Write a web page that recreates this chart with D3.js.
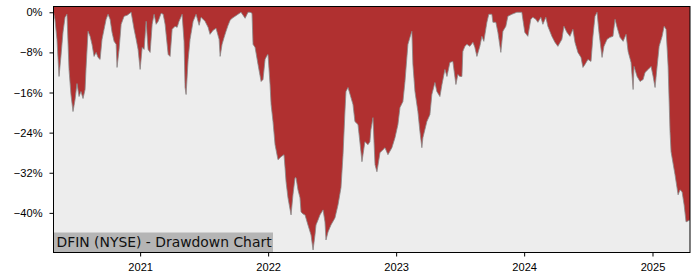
<!DOCTYPE html>
<html>
<head>
<meta charset="utf-8">
<script src="https://cdn.jsdelivr.net/npm/d3@7"></script>
<style>
  body { margin: 0; background: #ffffff; }
  svg { display: block; font-family: "DejaVu Sans", sans-serif; }
</style>
</head>
<body>
<div id="chart"></div>
<script>
// Data: time as decimal years, drawdown in percent

const chartTitle = "DFIN (NYSE) - Drawdown Chart";

const years = [
  2020.325, 2020.336, 2020.352, 2020.368, 2020.383, 2020.399, 2020.415, 2020.430, 2020.446, 2020.461,
  2020.477, 2020.493, 2020.508, 2020.524, 2020.539, 2020.555, 2020.571, 2020.578, 2020.594, 2020.610,
  2020.625, 2020.641, 2020.657, 2020.672, 2020.688, 2020.703, 2020.719, 2020.735, 2020.750, 2020.766,
  2020.781, 2020.797, 2020.813, 2020.820, 2020.836, 2020.852, 2020.875, 2020.899, 2020.930, 2020.953,
  2020.969, 2020.984, 2021.000, 2021.016, 2021.031, 2021.047, 2021.062, 2021.078, 2021.094, 2021.109,
  2021.125, 2021.141, 2021.164, 2021.180, 2021.195, 2021.219, 2021.234, 2021.250, 2021.273, 2021.289,
  2021.304, 2021.328, 2021.343, 2021.351, 2021.359, 2021.375, 2021.390, 2021.414, 2021.437, 2021.461,
  2021.476, 2021.492, 2021.507, 2021.531, 2021.546, 2021.570, 2021.593, 2021.617, 2021.625, 2021.640,
  2021.656, 2021.671, 2021.687, 2021.703, 2021.718, 2021.742, 2021.765, 2021.788, 2021.804, 2021.820,
  2021.843, 2021.859, 2021.874, 2021.882, 2021.898, 2021.921, 2021.945, 2021.960, 2021.976, 2021.991,
  2021.999, 2022.015, 2022.023, 2022.038, 2022.054, 2022.077, 2022.101, 2022.124, 2022.132, 2022.140,
  2022.155, 2022.179, 2022.194, 2022.210, 2022.218, 2022.233, 2022.249, 2022.257, 2022.272, 2022.288,
  2022.311, 2022.335, 2022.351, 2022.366, 2022.374, 2022.390, 2022.405, 2022.429, 2022.444, 2022.452,
  2022.468, 2022.491, 2022.522, 2022.546, 2022.569, 2022.585, 2022.600, 2022.608, 2022.624, 2022.647,
  2022.663, 2022.678, 2022.702, 2022.725, 2022.733, 2022.756, 2022.780, 2022.795, 2022.803, 2022.819,
  2022.835, 2022.850, 2022.874, 2022.897, 2022.913, 2022.936, 2022.967, 2022.991, 2023.014, 2023.030,
  2023.053, 2023.069, 2023.092, 2023.108, 2023.123, 2023.131, 2023.147, 2023.170, 2023.186, 2023.201,
  2023.209, 2023.240, 2023.264, 2023.279, 2023.303, 2023.318, 2023.342, 2023.358, 2023.381, 2023.397,
  2023.420, 2023.443, 2023.467, 2023.482, 2023.498, 2023.514, 2023.521, 2023.537, 2023.553, 2023.576,
  2023.600, 2023.615, 2023.631, 2023.654, 2023.670, 2023.685, 2023.709, 2023.724, 2023.748, 2023.756,
  2023.779, 2023.795, 2023.818, 2023.834, 2023.857, 2023.873, 2023.904, 2023.943, 2023.982, 2024.005,
  2024.029, 2024.052, 2024.068, 2024.091, 2024.107, 2024.130, 2024.146, 2024.169, 2024.185, 2024.216,
  2024.240, 2024.263, 2024.294, 2024.310, 2024.333, 2024.357, 2024.380, 2024.396, 2024.419, 2024.443,
  2024.458, 2024.474, 2024.497, 2024.521, 2024.536, 2024.552, 2024.568, 2024.583, 2024.607, 2024.622,
  2024.646, 2024.669, 2024.692, 2024.708, 2024.724, 2024.747, 2024.771, 2024.794, 2024.810, 2024.833,
  2024.849, 2024.856, 2024.880, 2024.903, 2024.927, 2024.942, 2024.966, 2024.989, 2025.005, 2025.020,
  2025.036, 2025.052, 2025.075, 2025.091, 2025.106, 2025.122, 2025.137, 2025.145, 2025.176, 2025.200,
  2025.215, 2025.231, 2025.247, 2025.262, 2025.293
];

const drawdown = [
  0.0, -1.4, -5.4, -12.8, -8.8, -4.0, -1.0, -0.4, -11.4, -16.4,
  -19.8, -17.4, -14.2, -16.8, -15.8, -17.2, -15.4, -11.4, -3.8, -4.8,
  -6.4, -8.8, -8.0, -9.0, -9.4, -5.4, -3.4, -1.4, -0.4, -1.4,
  -4.0, -5.8, -6.4, -11.0, -7.4, -2.4, -0.8, -0.6, 0.0, -3.4,
  -5.4, -7.4, -11.4, -7.0, -7.4, -1.8, -7.4, -8.0, -2.4, -0.4,
  -2.4, -1.8, -0.2, -0.4, -2.4, -8.4, -8.8, -3.4, -2.8, -3.0,
  -1.8, -0.4, -5.8, -15.0, -16.4, -9.4, -5.4, -1.8, -0.4, -2.6,
  -1.0, -1.4, -1.8, -3.0, -4.4, -3.6, -3.2, -5.4, -8.8, -6.4,
  -5.0, -3.8, -2.6, -1.6, -1.2, -0.8, -0.4, 0.0, -0.6, -1.2,
  0.0, 0.0, -0.2, -6.4, -7.0, -10.4, -13.8, -13.4, -9.4, -8.6,
  -8.4, -14.4, -18.4, -21.8, -26.4, -29.4, -28.8, -28.4, -31.0, -33.8,
  -37.0, -40.4, -36.4, -33.0, -33.0, -35.4, -37.0, -39.8, -40.2, -40.4,
  -42.4, -44.4, -47.4, -44.4, -42.4, -41.4, -40.4, -39.4, -41.8, -45.4,
  -43.8, -42.4, -41.0, -38.4, -35.0, -28.4, -19.8, -15.8, -15.0, -17.0,
  -18.4, -21.8, -22.4, -27.8, -29.8, -25.8, -26.4, -25.8, -23.4, -21.0,
  -30.4, -31.8, -28.0, -27.4, -27.0, -28.4, -27.0, -25.0, -22.4, -19.0,
  -17.8, -13.8, -6.4, -5.0, -3.8, -10.4, -15.8, -19.8, -23.8, -27.0,
  -25.0, -21.8, -20.4, -16.4, -14.0, -15.8, -16.8, -14.4, -11.4, -12.8,
  -10.0, -9.8, -14.4, -12.4, -12.8, -12.8, -7.8, -6.8, -6.4, -6.8,
  -6.0, -7.0, -8.8, -6.8, -4.8, -5.8, -2.0, -0.4, -0.4, -2.0,
  -2.0, -4.0, -8.0, -3.8, -2.8, -0.8, -0.4, 0.0, 0.0, -4.0,
  -4.8, -1.4, -1.0, -1.4, -2.0, -1.0, -2.4, -1.0, -2.8, -4.8,
  -6.0, -6.8, -5.4, -2.8, -4.0, -4.8, -3.4, -6.0, -8.0, -9.0,
  -11.0, -10.4, -9.4, -9.8, -4.8, -0.8, 0.0, -4.0, -9.0, -6.8,
  -5.4, -5.0, -4.8, -1.4, -3.0, -5.0, -5.8, -4.4, -7.8, -10.0,
  -15.4, -10.8, -12.8, -13.8, -13.4, -12.0, -11.4, -10.8, -12.8, -15.0,
  -10.8, -6.8, -4.8, -2.8, -3.4, -10.8, -23.8, -27.8, -32.4, -36.4,
  -35.4, -35.8, -38.4, -41.8, -41.4
];

const yTicks = [0, -8, -16, -24, -32, -40];
const xTickYears = [2021, 2022, 2023, 2024, 2025];

function yearToDate(t) {
  const y = Math.floor(t);
  const start = new Date(y, 0, 1);
  const end = new Date(y + 1, 0, 1);
  return new Date(+start + (t - y) * (end - start));
}

function createDrawdownChart(containerId) {
  const width = 700;
  const height = 280;
  const margin = { top: 6.5, right: 10, bottom: 27.5, left: 53.5 };

  const data = years.map((t, i) => ({ date: yearToDate(t), value: drawdown[i] }));

  const svg = d3
    .select(containerId)
    .append("svg")
    .attr("width", width)
    .attr("height", height);

  const xScale = d3
    .scaleTime()
    .domain(d3.extent(data, (d) => d.date))
    .range([margin.left, width - margin.right]);

  const yScale = d3
    .scaleLinear()
    .domain([-47.9, 1.15])
    .range([height - margin.bottom, margin.top]);

  // Plot background

  svg
    .append("rect")
    .attr("x", margin.left)
    .attr("y", margin.top)
    .attr("width", width - margin.right - margin.left)
    .attr("height", height - margin.bottom - margin.top)
    .style("fill", "#ededed");

  svg
    .append("clipPath")
    .attr("id", "plot-clip")
    .append("rect")
    .attr("x", margin.left)
    .attr("y", margin.top)
    .attr("width", width - margin.right - margin.left)
    .attr("height", height - margin.bottom - margin.top);

  // Drawdown area, filled from the curve up to the top of the plot

  const area = d3
    .area()
    .x((d) => xScale(d.date))
    .y0(margin.top)
    .y1((d) => yScale(d.value));

  const line = d3
    .line()
    .x((d) => xScale(d.date))
    .y((d) => yScale(d.value));

  const plot = svg.append("g").attr("clip-path", "url(#plot-clip)");

  plot
    .append("path")
    .datum(data)
    .attr("d", area)
    .style("fill", "#b03030");

  plot
    .append("path")
    .datum(data)
    .attr("d", line)
    .style("fill", "none")
    .style("stroke", "#8a8a8a")
    .style("stroke-width", 1)
    .style("stroke-opacity", 0.8);

  // Title box

  svg
    .append("rect")
    .attr("x", margin.left)
    .attr("y", 232.5)
    .attr("width", 219.5)
    .attr("height", height - margin.bottom - 232.5)
    .style("fill", "#b5b5b5");

  svg
    .append("text")
    .attr("x", 56.5)
    .attr("y", 247.3)
    .style("font-size", "13.9px")
    .style("fill", "#111")
    .text(chartTitle);

  // Axis

  const xAxis = svg
    .append("g")
    .attr("transform", `translate(0, ${height - margin.bottom})`)
    .call(
      d3
        .axisBottom(xScale)
        .tickValues(xTickYears.map((y) => new Date(y, 0, 1)))
        .tickFormat(d3.timeFormat("%Y"))
        .tickSize(4)
        .tickPadding(6.5)
        .tickSizeOuter(0)
    );

  const yAxis = svg
    .append("g")
    .attr("transform", `translate(${margin.left}, 0)`)
    .call(
      d3
        .axisLeft(yScale)
        .tickValues(yTicks)
        .tickFormat((d) => d3.format("d")(d) + "%")
        .tickSize(4)
        .tickPadding(7)
        .tickSizeOuter(0)
    );

  [xAxis, yAxis].forEach((g) => {
    g.selectAll("text").style("font-size", "11.1px").style("fill", "#000");
    g.selectAll("line").style("stroke", "#000");
    g.select(".domain").remove();
  });

  // Frame

  svg
    .append("rect")
    .attr("x", margin.left)
    .attr("y", margin.top)
    .attr("width", width - margin.right - margin.left)
    .attr("height", height - margin.bottom - margin.top)
    .style("fill", "none")
    .style("stroke", "#000")
    .style("stroke-width", 1);
}

createDrawdownChart("#chart");
</script>
</body>
</html>
